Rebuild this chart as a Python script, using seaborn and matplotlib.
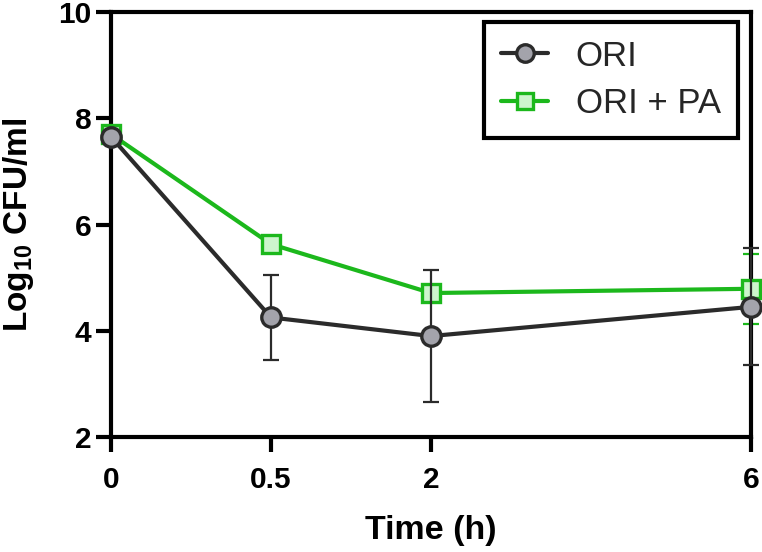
import matplotlib
matplotlib.use("Agg")
import matplotlib.pyplot as plt
import seaborn as sns
import numpy as np
import pandas as pd

# ---- data ----
time_labels = ["0", "0.5", "2", "6"]
time_pos = [0, 1, 2, 4]          # axis layout of the time points (as in original)
ori_mean = [7.65, 4.25, 3.90, 4.45]
ori_sd = [0.05, 0.80, 1.24, 1.10]
pa_mean = [7.70, 5.63, 4.71, 4.79]
pa_sd = [0.05, 0.10, 0.10, 0.66]
y_ticks = [2, 4, 6, 8, 10]

sns.set_theme(style="ticks")
plt.rcParams['font.family'] = ['Liberation Sans', 'DejaVu Sans']
plt.rcParams['mathtext.fontset'] = 'custom'
plt.rcParams['mathtext.rm'] = 'Liberation Sans'
plt.rcParams['mathtext.bf'] = 'Liberation Sans:bold'

fig = plt.figure(figsize=(7.62, 5.52), dpi=100)
ax = fig.add_axes([111/762, 1-437/552, 640/762, 425/552])

ori_col = "#2b2b2b"
ori_face = "#a3a3ab"
pa_col = "#1cb81c"
pa_face = "#cdf5cd"

df = pd.DataFrame({"pos": time_pos, "ori": ori_mean, "pa": pa_mean})

# green series
ax.errorbar(time_pos, pa_mean, yerr=pa_sd, fmt="none", ecolor=pa_col,
            elinewidth=1.6, capsize=6, capthick=1.6, zorder=2, clip_on=False)
sns.lineplot(data=df, x="pos", y="pa", color=pa_col, linewidth=3,
             marker="s", markersize=13, markerfacecolor=pa_face,
             markeredgecolor=pa_col, markeredgewidth=2.4,
             label="ORI + PA", ax=ax, zorder=3, clip_on=False)
# black series
ax.errorbar(time_pos, ori_mean, yerr=ori_sd, fmt="none", ecolor=ori_col,
            elinewidth=1.6, capsize=6, capthick=1.6, zorder=4, clip_on=False)
sns.lineplot(data=df, x="pos", y="ori", color=ori_col, linewidth=3,
             marker="o", markersize=14, markerfacecolor=ori_face,
             markeredgecolor=ori_col, markeredgewidth=2.4,
             label="ORI", ax=ax, zorder=5, clip_on=False)

ax.set_xlim(0, 4)
ax.set_ylim(2, 10)
ax.set_xticks(time_pos)
ax.set_xticklabels(time_labels)
ax.set_yticks(y_ticks)

for s in ax.spines.values():
    s.set_linewidth(3)
    s.set_color("black")
    s.set_visible(True)

ax.tick_params(axis="both", width=3, length=11, color="black",
               labelsize=21.5, labelcolor="black")
ax.tick_params(axis="x", pad=10)
ax.tick_params(axis="y", pad=3)
for lab in ax.get_xticklabels() + ax.get_yticklabels():
    lab.set_fontweight("bold")

ax.set_xlabel("Time (h)", fontsize=24.5, fontweight="bold", color="black")
ax.set_ylabel(r"Log$_{\mathbf{10}}$ CFU/ml", fontsize=24, fontweight="bold", color="black")
ax.xaxis.set_label_coords(0.5, -0.184)
ax.yaxis.set_label_coords(-0.117, 0.5)

handles, labels = ax.get_legend_handles_labels()
order = [labels.index("ORI"), labels.index("ORI + PA")]
leg = ax.legend([handles[i] for i in order], [labels[i] for i in order],
                loc="upper right", bbox_to_anchor=(0.98, 0.976),
                borderaxespad=0, frameon=True, fancybox=False,
                prop={"family": "Liberation Sans", "size": 25},
                handlelength=1.35, handletextpad=0.8, labelspacing=0.42,
                borderpad=0.5, markerscale=0.9)
leg.get_frame().set_edgecolor("black")
leg.get_frame().set_linewidth(3)
leg.get_frame().set_alpha(1)

fig.savefig("out.png", dpi=100)
